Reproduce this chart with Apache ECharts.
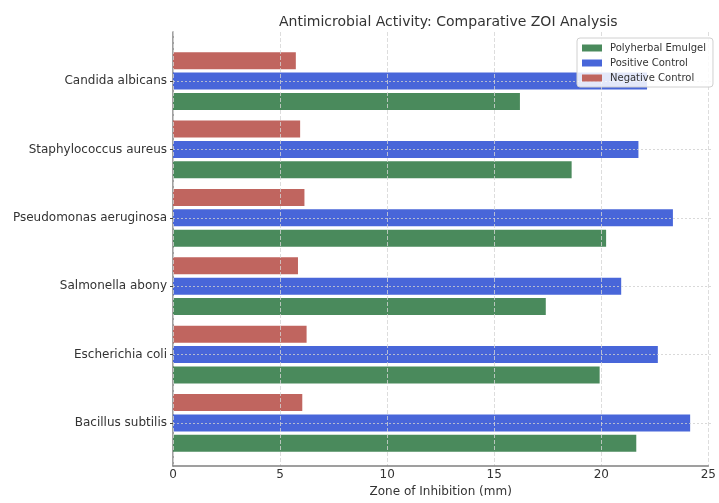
<!DOCTYPE html>
<html>
<head>
<meta charset="utf-8">
<script src="https://cdn.jsdelivr.net/npm/echarts@6/dist/echarts.min.js"></script>
<style>html,body{margin:0;padding:0;background:#fff}#c{width:719px;height:503px}</style>
</head>
<body>
<div id="c"></div>
<script>
// Categories from bottom to top
const categories = ['Bacillus subtilis', 'Escherichia coli', 'Salmonella abony', 'Pseudomonas aeruginosa', 'Staphylococcus aureus', 'Candida albicans'];
const polyherbal = [21.5, 19.8, 17.3, 20.1, 18.5, 16.1];
const positiveCtrl = [24.0, 22.5, 20.8, 23.2, 21.6, 22.0];
const negativeCtrl = [6.0, 6.2, 5.8, 6.1, 5.9, 5.7];
const xTicks = [0, 5, 10, 15, 20, 25];

const FONT = 'DejaVu Sans';
const TXT = '#333';
const H = 503;
const frameTop = 32, frameBottom = 472;          // plot frame (spines)
const margin = 0.7175;                            // frame padding, in category units
const span = categories.length - 1 + 2 * margin;
const step = (frameBottom - frameTop) / span;     // px per category
const firstPx = frameBottom - margin * step;      // centre of first category
const lastPx = firstPx - (categories.length - 1) * step;

const chart = echarts.init(document.getElementById('c'), null, {renderer: 'canvas'});
chart.setOption({
  animation: false,
  backgroundColor: '#fff',
  textStyle: {fontFamily: FONT},
  title: {
    text: 'Antimicrobial Activity: Comparative ZOI Analysis',
    left: 274, top: 10,
    textStyle: {fontFamily: FONT, fontSize: 14, fontWeight: 'normal', color: TXT}
  },
  legend: {
    orient: 'vertical', left: 577, top: 38,
    data: ['Polyherbal Emulgel', 'Positive Control', 'Negative Control'],
    itemWidth: 20, itemHeight: 7, itemGap: 5,
    padding: [5, 7, 4, 5],
    backgroundColor: 'rgba(255,255,255,0.85)',
    borderColor: '#d0d0d0', borderWidth: 1, borderRadius: 3,
    textStyle: {fontFamily: FONT, fontSize: 10, color: TXT, padding: [0, 0, 0, 3]},
    icon: 'rect'
  },
  grid: [
    // 0: frame (spines, x ticks, vertical grid)
    {left: 173, right: 7.3, top: frameTop, bottom: H - frameBottom},
    // 1: bars, one band per category
    {left: 173, right: 7.3, top: lastPx - step / 2, bottom: H - (firstPx + step / 2)},
    // 2: category labels and horizontal grid lines at band centres
    {left: 173, right: 7.3, top: lastPx, bottom: H - firstPx}
  ],
  xAxis: [
    {
      gridIndex: 0, type: 'value', min: xTicks[0], max: xTicks[xTicks.length - 1], interval: 5,
      name: 'Zone of Inhibition (mm)', nameLocation: 'middle', nameGap: 17,
      nameTextStyle: {fontFamily: FONT, fontSize: 12, color: TXT},
      axisLine: {show: true, lineStyle: {color: '#808080', width: 1.5}},
      axisTick: {show: false},
      axisLabel: {fontFamily: FONT, fontSize: 12, color: TXT, margin: 3},
      splitLine: {show: true, lineStyle: {color: '#d4d4d4', type: [4, 2], width: 0.8}},
      z: 3
    },
    {gridIndex: 1, type: 'value', min: xTicks[0], max: xTicks[xTicks.length - 1], show: false},
    {gridIndex: 2, type: 'value', min: xTicks[0], max: xTicks[xTicks.length - 1], show: false}
  ],
  yAxis: [
    {
      gridIndex: 0, type: 'value', min: 0, max: 1,
      axisLine: {show: true, lineStyle: {color: '#808080', width: 1.5}},
      axisTick: {show: false}, axisLabel: {show: false}, splitLine: {show: false}
    },
    {
      gridIndex: 1, type: 'category', data: categories,
      axisLine: {show: false}, axisTick: {show: false}, axisLabel: {show: false}, splitLine: {show: false}
    },
    {
      gridIndex: 2, type: 'category', data: categories, boundaryGap: false,
      axisLine: {show: false},
      axisTick: {show: true, length: 3, lineStyle: {color: '#444', width: 1}},
      axisLabel: {fontFamily: FONT, fontSize: 12, color: TXT, margin: 6},
      splitLine: {show: true, lineStyle: {color: '#cfcfcf', type: [2, 2], width: 0.8}},
      z: 3
    }
  ],
  series: [
    {name: 'Negative Control', type: 'bar', xAxisIndex: 1, yAxisIndex: 1, data: negativeCtrl,
     barWidth: 17, barGap: '20%', itemStyle: {color: '#c0655f'}},
    {name: 'Positive Control', type: 'bar', xAxisIndex: 1, yAxisIndex: 1, data: positiveCtrl,
     barWidth: 17, barGap: '20%', itemStyle: {color: '#4866d9'}},
    {name: 'Polyherbal Emulgel', type: 'bar', xAxisIndex: 1, yAxisIndex: 1, data: polyherbal,
     barWidth: 17, barGap: '20%', itemStyle: {color: '#4a8a5c'}}
  ]
});
</script>
</body>
</html>
